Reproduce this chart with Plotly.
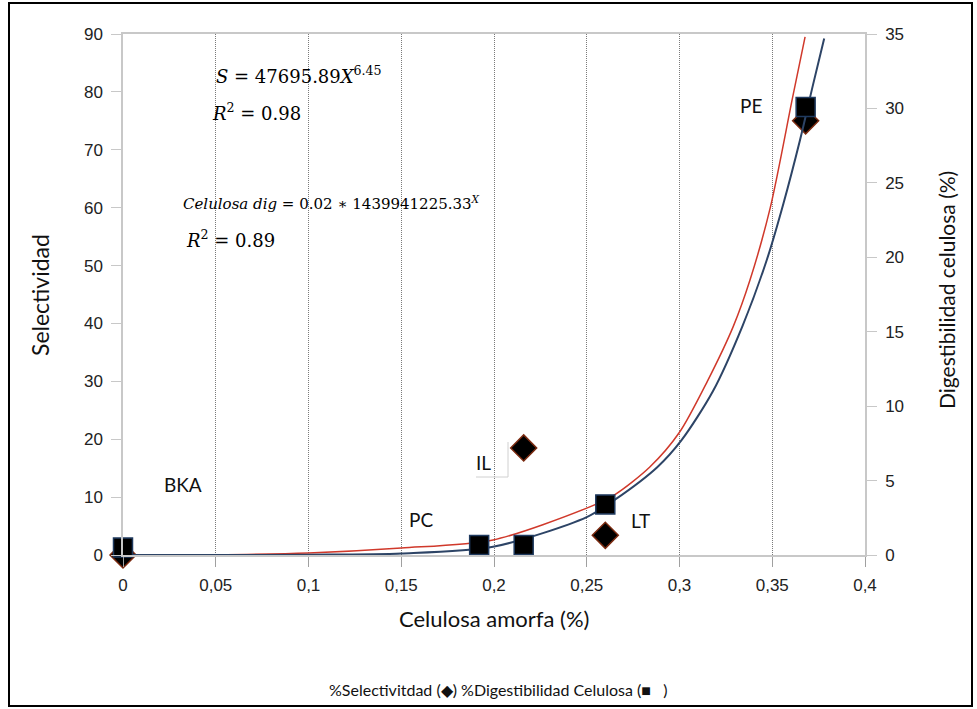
import plotly.graph_objects as go

# ---- data ----
samples = ["BKA", "PC", "IL", "LT", "PE"]
x_cel = [0.0, 0.192, 0.216, 0.260, 0.368]
selectividad = [0.0, -1.0, 18.5, 3.4, 75.0]
digestibilidad = [0.5, 0.67, 0.67, 3.4, 30.1]

# fitted curves
fit_s_x = [0.0, 0.05, 0.10, 0.15, 0.1995, 0.25, 0.265, 0.284, 0.300, 0.315, 0.329, 0.338, 0.349, 0.361, 0.3677]
fit_s_y = [0.0, 0.05, 0.35, 1.2, 2.6, 8.1, 10.4, 15.2, 21.2, 30.0, 39.5, 47.5, 60.1, 79.1, 89.5]

fit_d_x = [0.0, 0.05, 0.10, 0.15, 0.1995, 0.25, 0.265, 0.288, 0.301, 0.318, 0.334, 0.347, 0.356, 0.365, 0.372, 0.378]
fit_d_y = [0.0, 0.0, 0.02, 0.1, 0.55, 2.55, 3.7, 5.9, 7.7, 11.0, 15.4, 19.8, 23.6, 27.9, 31.6, 34.7]

x_ticks = [0, 0.05, 0.1, 0.15, 0.2, 0.25, 0.3, 0.35, 0.4]
x_ticktext = ["0", "0,05", "0,1", "0,15", "0,2", "0,25", "0,3", "0,35", "0,4"]
y_ticks = [0, 10, 20, 30, 40, 50, 60, 70, 80, 90]
y2_ticks = [0, 5, 10, 15, 20, 25, 30, 35]

label_pos_x = [0.0323, 0.1606, 0.1946, 0.2792, 0.3385]
label_pos_y = [12.1, 6.2, 15.9, 6.0, 77.6]

fig = go.Figure()

fig.add_trace(go.Scatter(x=fit_s_x, y=fit_s_y, mode="lines",
                         line=dict(color="#d0392b", width=1.5, shape="spline", smoothing=0.8),
                         yaxis="y", showlegend=False, hoverinfo="skip"))
fig.add_trace(go.Scatter(x=x_cel, y=selectividad, mode="markers", yaxis="y", cliponaxis=False,
                         marker=dict(symbol="diamond", size=20, color="black", line=dict(color="#7a2a10", width=1.5)),
                         showlegend=False))
fig.add_trace(go.Scatter(x=fit_d_x, y=fit_d_y, mode="lines",
                         line=dict(color="#2d4466", width=2, shape="spline", smoothing=0.8),
                         yaxis="y2", showlegend=False, hoverinfo="skip"))
fig.add_trace(go.Scatter(x=x_cel, y=digestibilidad, mode="markers", yaxis="y2", cliponaxis=False,
                         marker=dict(symbol="square", size=19, color="black", line=dict(color="#1f3a5f", width=1.5)),
                         showlegend=False))

tickfont = dict(family="Liberation Sans, Arial", size=17, color="#222222")

fig.update_layout(
    width=977, height=709,
    margin=dict(l=123, r=112, t=34, b=154),
    paper_bgcolor="white", plot_bgcolor="white",
    xaxis=dict(range=[0, 0.4], tickvals=x_ticks, ticktext=x_ticktext, tickfont=tickfont,
               showgrid=True, gridcolor="#7a7a7a", griddash="1px,1px", gridwidth=1,
               showline=True, linecolor="#c8c8c8", linewidth=1.5, mirror=True,
               ticks="outside", ticklen=10, tickcolor="#a0a0a0", zeroline=False, ticklabelstandoff=4),
    yaxis=dict(range=[0, 90], tickvals=y_ticks, tickfont=tickfont, showgrid=False, zeroline=False,
               showline=True, linecolor="#c8c8c8", linewidth=1.5, ticks="outside", ticklen=10,
               tickcolor="#c8c8c8", ticklabelstandoff=5),
    yaxis2=dict(range=[0, 35], tickvals=y2_ticks, tickfont=tickfont, overlaying="y", side="right",
                showgrid=False, zeroline=False, showline=True, linecolor="#c8c8c8", linewidth=1.5,
                ticks="outside", ticklen=10, tickcolor="#c8c8c8", ticklabelstandoff=5),
)

def px2paper(px, py):
    return (px - 123) / 742.0, (555 - py) / 521.0

# point labels
for name, lx, ly in zip(samples, label_pos_x, label_pos_y):
    fig.add_annotation(x=lx, y=ly, xref="x", yref="y", text=name, showarrow=False,
                       xanchor="center", yanchor="middle",
                       font=dict(family="Lato, Open Sans", size=19, color="#111111"))

serif = "DejaVu Serif, Liberation Serif"
eqs = [
    ("<i>S</i> = 47695.89<i>X</i><sup>6.45</sup>", 214, 75, 18),
    ("<i>R</i><sup>2</sup> = 0.98", 210, 112, 18),
    ("<i>Celulosa dig</i> = 0.02 ∗ 1439941225.33<sup><i>X</i></sup>", 181, 203, 15),
    ("<i>R</i><sup>2</sup> = 0.89", 184, 239, 18),
]
for txt, px, py, fs in eqs:
    ax, ay = px2paper(px, py)
    fig.add_annotation(x=ax, y=ay, xref="paper", yref="paper", text=txt, showarrow=False,
                       xanchor="left", yanchor="middle", font=dict(family=serif, size=fs, color="black"))

# axis titles
ax, ay = px2paper(494, 618)
fig.add_annotation(x=ax, y=ay, xref="paper", yref="paper", text="Celulosa amorfa (%)", showarrow=False,
                   xanchor="center", yanchor="middle",
                   font=dict(family="Lato, Open Sans", size=22, color="#111111"))
ax, ay = px2paper(40, 295)
fig.add_annotation(x=ax, y=ay, xref="paper", yref="paper", text="Selectividad", showarrow=False, textangle=-90,
                   xanchor="center", yanchor="middle",
                   font=dict(family="Lato, Open Sans", size=23, color="#111111"))
ax, ay = px2paper(946, 290)
fig.add_annotation(x=ax, y=ay, xref="paper", yref="paper", text="Digestibilidad celulosa (%)", showarrow=False,
                   textangle=-90, xanchor="center", yanchor="middle",
                   font=dict(family="Lato, Open Sans", size=21, color="#111111"))

# legend text
ax, ay = px2paper(498, 690)
fig.add_annotation(x=ax, y=ay, xref="paper", yref="paper",
                   text="%Selectivitdad (◆) %Digestibilidad Celulosa (■   )", showarrow=False,
                   xanchor="center", yanchor="middle",
                   font=dict(family="Lato, Open Sans", size=16, color="#111111"))

# outer border
x0, y0 = px2paper(9, 706)
x1, y1 = px2paper(972, 3)
fig.add_shape(type="rect", xref="paper", yref="paper", x0=x0, y0=y0, x1=x1, y1=y1,
              line=dict(color="black", width=2), layer="below")

# faint box beside IL label
bx0, by0 = px2paper(476, 477)
bx1, by1 = px2paper(508, 442)
fig.add_shape(type="path", xref="paper", yref="paper",
              path=f"M {bx0} {by0} L {bx1} {by0} L {bx1} {by1}", line=dict(color="#d0d0d0", width=1))

fig.write_html("out.html")
